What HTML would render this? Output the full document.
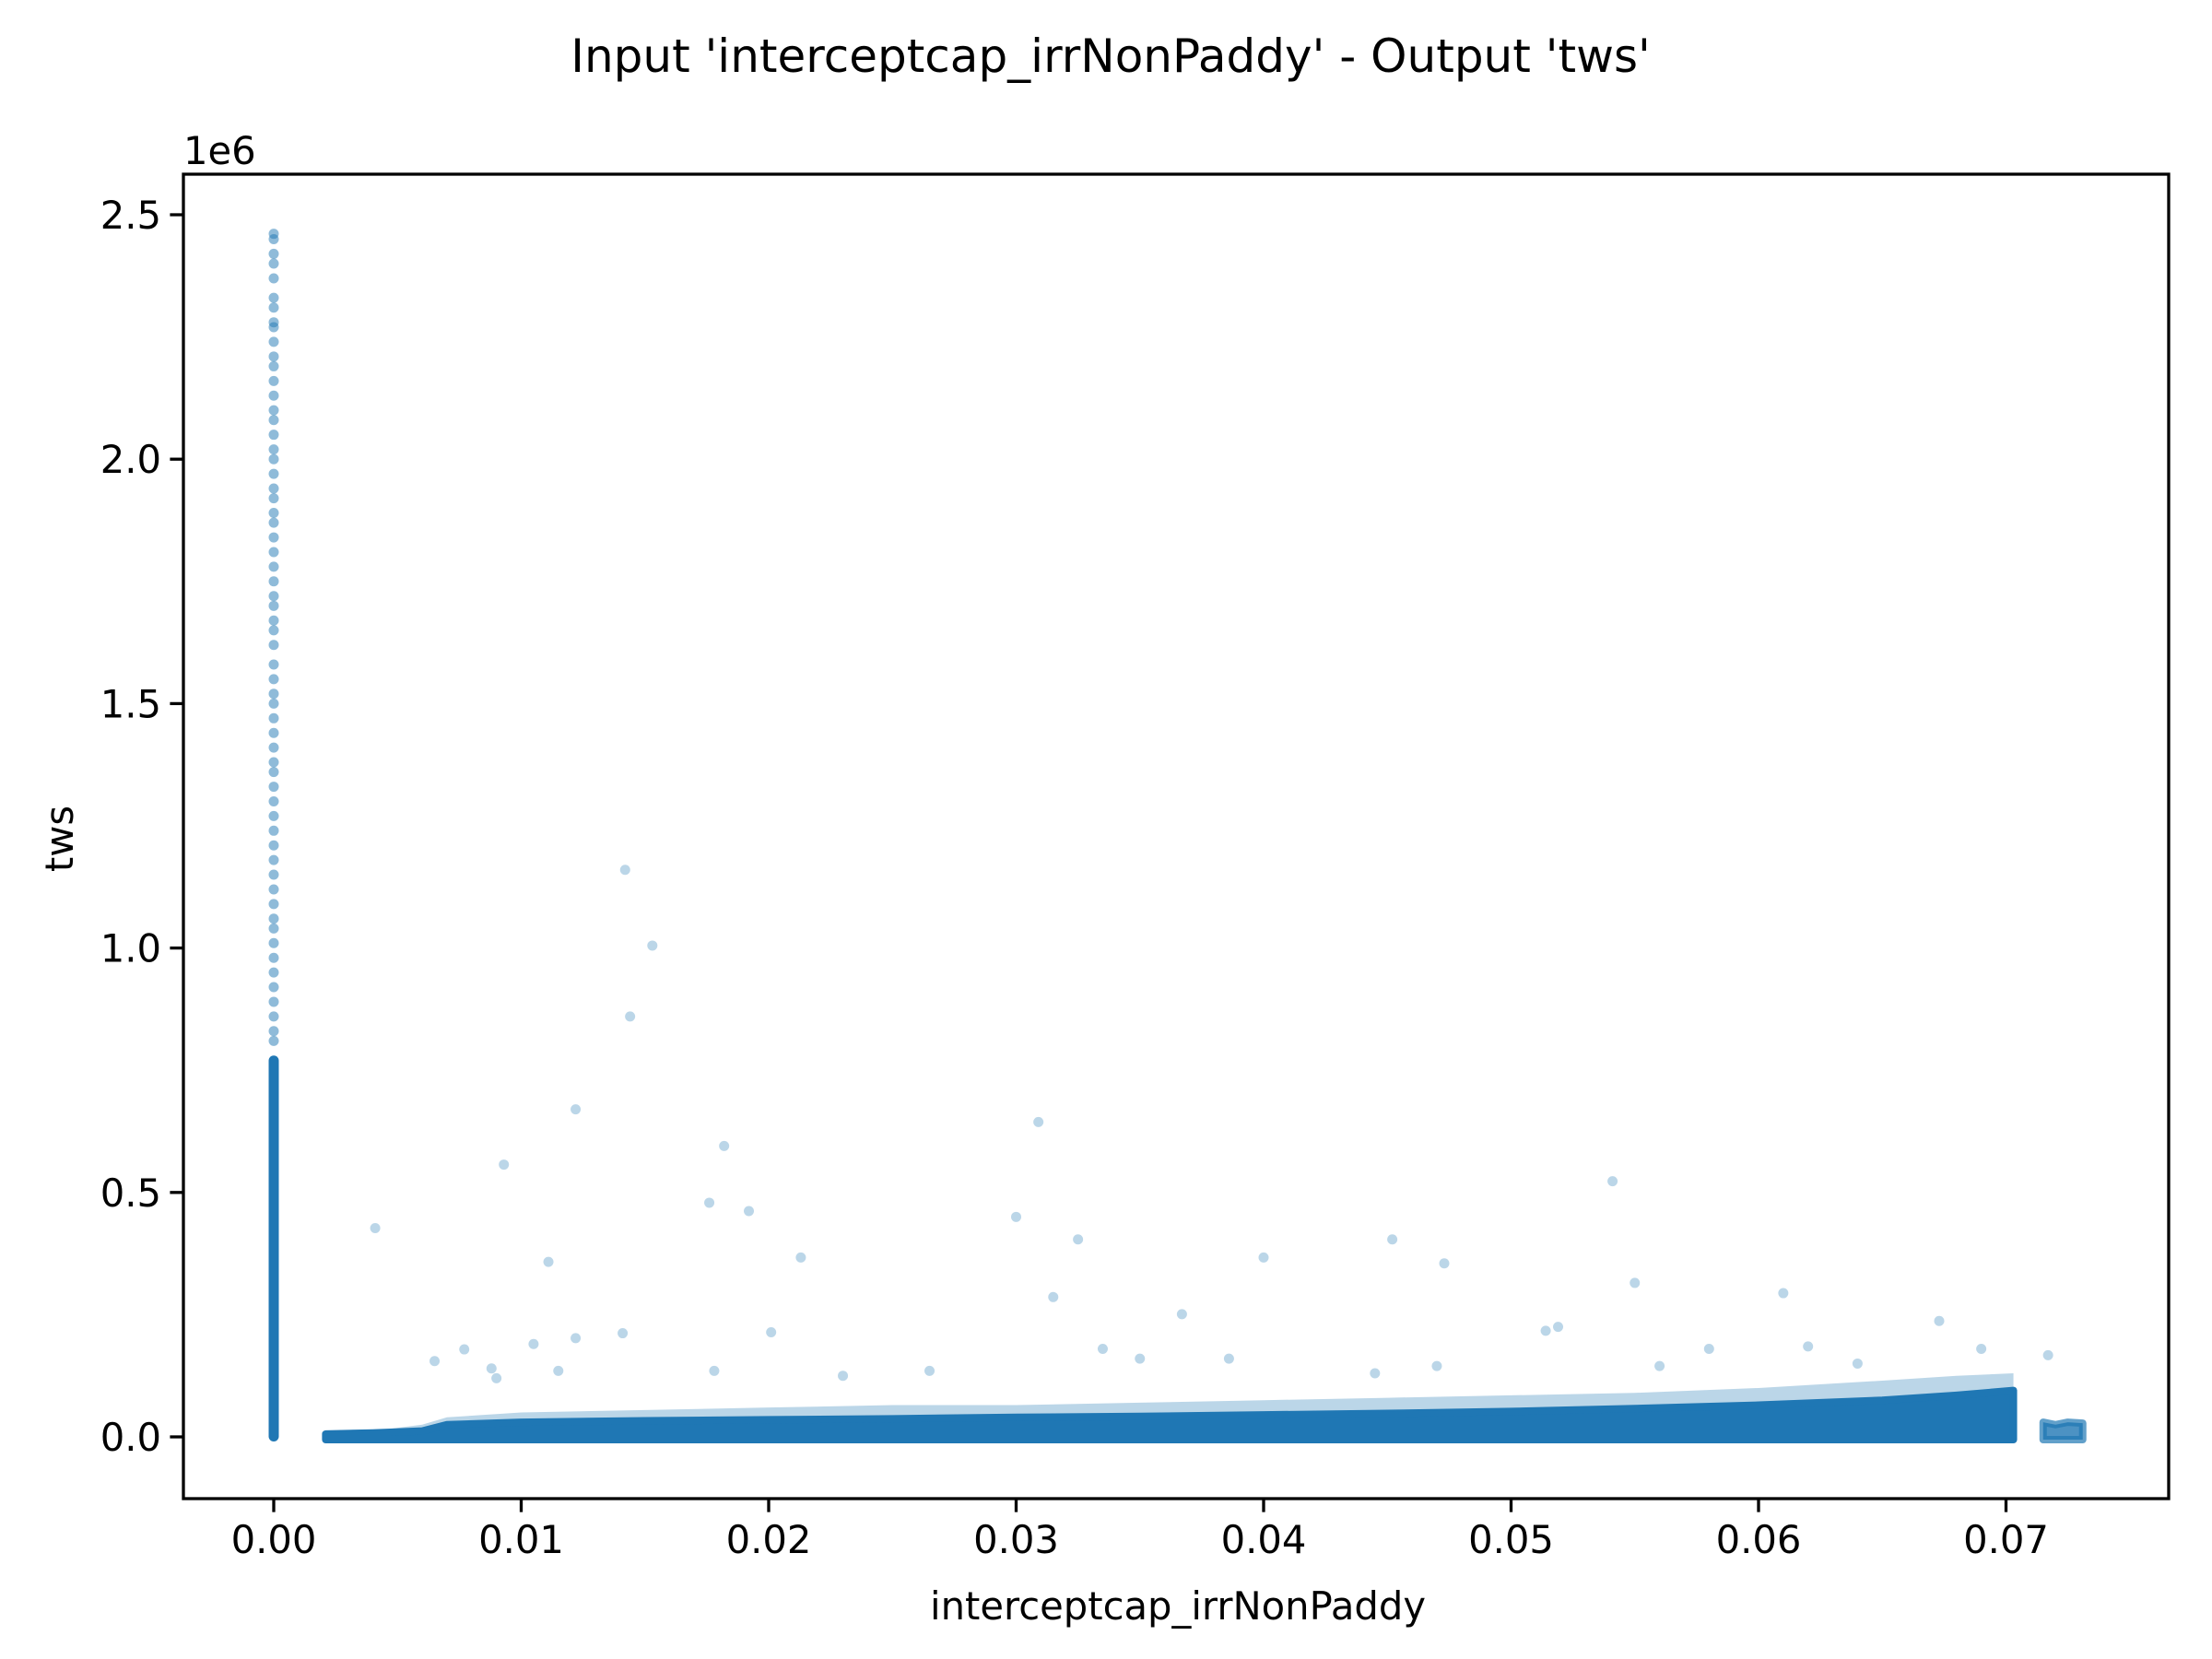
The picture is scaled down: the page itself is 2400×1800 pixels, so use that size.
<!DOCTYPE html>
<html><head><meta charset="utf-8"><style>
html,body{margin:0;padding:0;background:#fff;}
svg{display:block;font-family:"DejaVu Sans","Liberation Sans",sans-serif;}
</style></head><body>
<svg id="chart" width="2400" height="1800" viewBox="0 0 2400 1800" xmlns="http://www.w3.org/2000/svg">
<rect width="2400" height="1800" fill="#fff"/>
<text x="1205" y="78" text-anchor="middle" font-size="50" fill="#000">Input 'interceptcap_irrNonPaddy' - Output 'tws'</text>
<g id="plot"></g>
<g id="axes"></g>
<text x="1278" y="1757" text-anchor="middle" font-size="41.7">interceptcap_irrNonPaddy</text>
<text transform="translate(79,910) rotate(-90)" text-anchor="middle" font-size="41.7">tws</text>
<text x="199" y="178" font-size="41.7">1e6</text>
</svg>
<script>
const xTicks=[0,0.01,0.02,0.03,0.04,0.05,0.06,0.07];
const xTickLabels=["0.00","0.01","0.02","0.03","0.04","0.05","0.06","0.07"];
const yTicks=[0,0.5,1.0,1.5,2.0,2.5];
const yTickLabels=["0.0","0.5","1.0","1.5","2.0","2.5"];
// outlier points (x, tws in 1e6)
const outX=[0.0041,0.0093,0.0111,0.0122,0.0122,0.0142,0.0144,0.0153,0.0176,0.0182,0.0192,0.0201,0.0213,0.0300,0.0309,0.0315,0.0325,0.0367,0.0400,0.0452,0.0473,0.0514,0.0519,0.0541,0.0550,0.0610,0.0673,0.0717,0.0077,0.0141,0.0105,0.0335,0.0386,0.0580,0.0620,0.0088,0.0090,0.0115,0.0065,0.0178,0.0230,0.0265,0.0350,0.0445,0.0470,0.0560,0.0640,0.0690];
const outY=[0.427,0.557,0.358,0.670,0.202,1.160,0.860,1.005,0.479,0.595,0.462,0.214,0.367,0.450,0.644,0.286,0.404,0.251,0.367,0.404,0.355,0.217,0.225,0.523,0.315,0.294,0.237,0.167,0.179,0.212,0.190,0.180,0.160,0.180,0.185,0.140,0.120,0.135,0.155,0.135,0.125,0.135,0.160,0.130,0.145,0.145,0.150,0.180];
// column at x=0: sparse values above dense part
const colY=[2.461,2.45,2.42,2.40,2.37,2.33,2.31,2.28,2.27,2.24,2.21,2.19,2.16,2.13,2.10,2.08,2.05,2.02,2.00,1.97,1.94,1.92,1.89,1.87,1.84,1.81,1.78,1.75,1.72,1.70,1.67,1.65,1.62,1.58,1.55,1.52,1.50,1.47,1.44,1.41,1.38,1.36,1.33,1.30,1.27,1.24,1.21,1.18,1.15,1.12,1.09,1.06,1.04,1.01,0.98,0.95,0.92,0.89,0.86,0.83,0.81];
const colDenseTop=0.78;
// dense band envelope (x, top tws in 1e6)
const bandX=[0.0021,0.004,0.006,0.007,0.010,0.015,0.020,0.025,0.030,0.035,0.040,0.045,0.050,0.055,0.060,0.065,0.068,0.0703];
const bandTop=[0.006,0.008,0.012,0.025,0.03,0.033,0.035,0.037,0.04,0.042,0.045,0.048,0.052,0.058,0.065,0.075,0.085,0.095];
const haloTop=[0.008,0.012,0.025,0.04,0.05,0.055,0.06,0.065,0.065,0.07,0.075,0.08,0.085,0.09,0.1,0.115,0.125,0.13];
const tailX=[0.0715,0.0720,0.0725,0.0731];
const tailTop=[0.03,0.025,0.03,0.028];

const L=199,R=2353,T=189,B=1626;
const sx=v=>297+v*26850;
const sy=v=>1559-v*530.4;
const NS="http://www.w3.org/2000/svg";
const C="#1f77b4";
const plot=document.getElementById('plot'),axes=document.getElementById('axes');
function mk(tag,attrs,parent){const e=document.createElementNS(NS,tag);for(const k in attrs)e.setAttribute(k,attrs[k]);parent.appendChild(e);return e;}

let pts=bandX.map((x,i)=>sx(x)+','+sy(haloTop[i])).join(' ');
pts+=' '+sx(bandX[bandX.length-1])+','+sy(0)+' '+sx(bandX[0])+','+sy(0);
let e=mk('polygon',{points:pts,fill:C,'fill-opacity':0.3},plot);


pts=bandX.map((x,i)=>sx(x)+','+sy(bandTop[i])).join(' ');
pts+=' '+sx(bandX[bandX.length-1])+','+(sy(0)+3)+' '+sx(bandX[0])+','+(sy(0)+3);
e=mk('polygon',{points:pts,fill:C,stroke:C,'stroke-width':8,'stroke-linejoin':'round'},plot);


pts=tailX.map((x,i)=>sx(x)+','+sy(tailTop[i])).join(' ');
pts+=' '+sx(tailX[tailX.length-1])+','+(sy(0)+3)+' '+sx(tailX[0])+','+(sy(0)+3);
e=mk('polygon',{points:pts,fill:C,stroke:C,'stroke-width':8,'stroke-linejoin':'round','stroke-opacity':0.7,'fill-opacity':0.8},plot);


e=mk('rect',{x:sx(0)-5.5,y:sy(colDenseTop),width:11,height:sy(0)-sy(colDenseTop)+5,fill:C,rx:5.5},plot);


colY.forEach(v=>{
  const c=mk('circle',{cx:sx(0),cy:sy(v),r:5.5,fill:C,'fill-opacity':0.5},plot);
  
  
});
outX.forEach((x,i)=>{
  const c=mk('circle',{cx:sx(x),cy:sy(outY[i]),r:5.5,fill:C,'fill-opacity':0.3},plot);
  
  
});
e=mk('rect',{x:L,y:T,width:R-L,height:B-T,fill:'none',stroke:'#000','stroke-width':3.3},axes);


xTicks.forEach((v,i)=>{
  const x=sx(v);
  const l=mk('line',{x1:x,x2:x,y1:B,y2:B+14.6,stroke:'#000','stroke-width':3.3},axes);
  
  
  const t=mk('text',{x:x,y:1685,'text-anchor':'middle','font-size':41.7},axes);
  t.textContent=xTickLabels[i];
  
  
});
yTicks.forEach((v,i)=>{
  const y=sy(v);
  const l=mk('line',{x1:L-14.6,x2:L,y1:y,y2:y,stroke:'#000','stroke-width':3.3},axes);
  
  
  const t=mk('text',{x:L-24,y:y+15,'text-anchor':'end','font-size':41.7},axes);
  t.textContent=yTickLabels[i];
  
  
});
</script>
</body></html>
